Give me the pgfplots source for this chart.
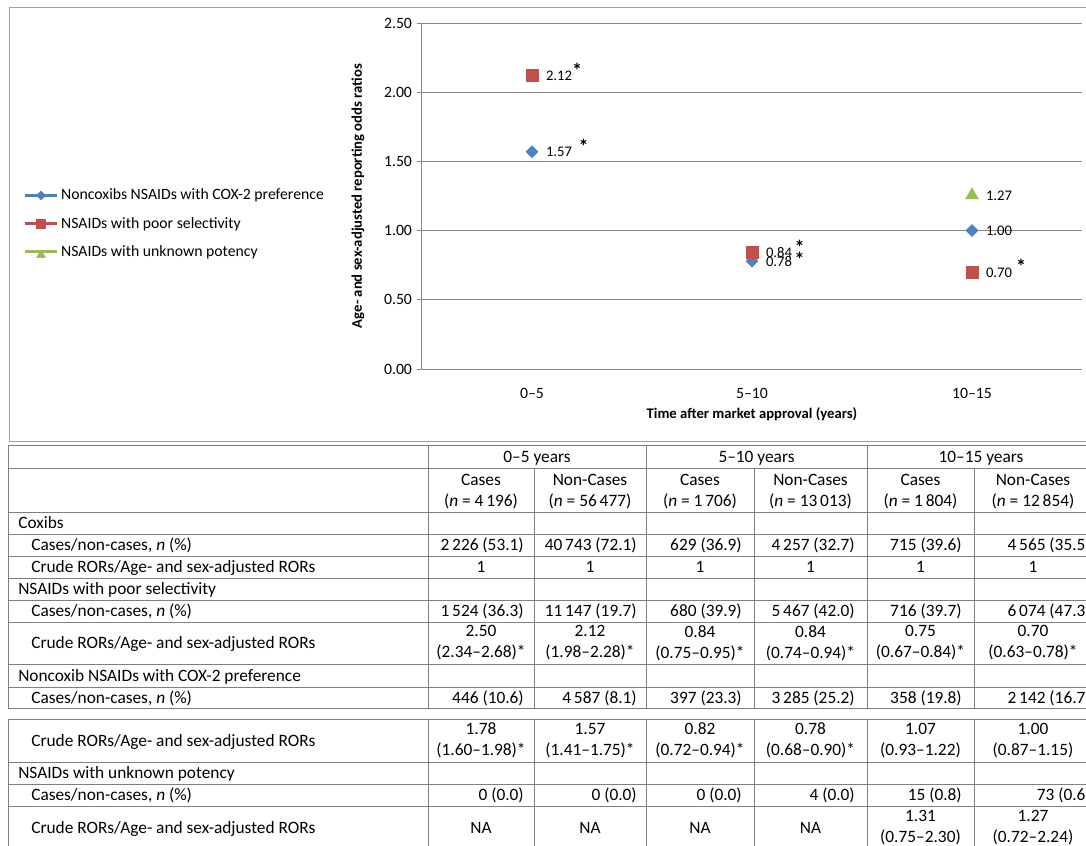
\documentclass[border=0pt]{standalone}
\usepackage{pgfplots}
\pgfplotsset{compat=1.18}
\usepackage{fontspec}
\setmainfont{Carlito}
\definecolor{cblue}{HTML}{4F81BD}
\definecolor{cred}{HTML}{C0504D}
\definecolor{cgreen}{HTML}{9BBB59}
\definecolor{gridc}{HTML}{868686}
\definecolor{framec}{HTML}{A0A0A0}
\definecolor{tline}{HTML}{7F7F7F}
\newcommand{\tf}{\fontsize{13}{15.75}\selectfont}
\newcommand{\cf}{\fontsize{11.8}{14}\selectfont}
\newcommand{\bst}{{\fontsize{15}{15}\selectfont\bfseries *}}
\newcommand{\st}{\raisebox{2.5pt}{\bst}}
% right aligned row (base y, six values)
\newcommand{\Rrow}[7]{%
  \node[anchor=base east] at (524,#1) {#2};
  \node[anchor=base east] at (637,#1) {#3};
  \node[anchor=base east] at (742,#1) {#4};
  \node[anchor=base east] at (855,#1) {#5};
  \node[anchor=base east] at (962,#1) {#6};
  \node[anchor=base east] at (1091,#1) {#7};}
% centred row (centre y, six values, may be two lines)
\newcommand{\Crow}[7]{%
  \node[align=center] at (481,#1) {#2};
  \node[align=center] at (590,#1) {#3};
  \node[align=center] at (700,#1) {#4};
  \node[align=center] at (810.5,#1) {#5};
  \node[align=center] at (920.5,#1) {#6};
  \node[align=center] at (1033,#1) {#7};}
\newcommand{\Brow}[7]{%
  \node[anchor=base] at (481,#1) {#2};
  \node[anchor=base] at (590,#1) {#3};
  \node[anchor=base] at (700,#1) {#4};
  \node[anchor=base] at (810.5,#1) {#5};
  \node[anchor=base] at (920.5,#1) {#6};
  \node[anchor=base] at (1033,#1) {#7};}
\begin{document}
\begin{tikzpicture}
\useasboundingbox (0pt,0pt) rectangle (814.5pt,-634.5pt);
\clip (0pt,0pt) rectangle (814.5pt,-634.5pt);
\fill[white] (0pt,0pt) rectangle (814.5pt,-634.5pt);
\begin{scope}[x=0.75pt,y=-0.75pt]
\draw[framec, line width=0.75pt] (9,7) rectangle (1120,441);
\end{scope}

\begin{axis}[
  at={(316.5pt,-276.75pt)}, anchor=south west,
  scale only axis, width=495pt, height=259.5pt,
  xmin=-0.5, xmax=2.5, ymin=0, ymax=2.5,
  xtick={0,1,2}, xticklabels={0–5,5–10,10–15},
  ytick={0,0.5,1,1.5,2,2.5},
  /pgf/number format/assume math mode=true,
  yticklabel style={/pgf/number format/.cd, fixed, fixed zerofill, precision=2},
  ticklabel style={font=\cf, text=black},
  xticklabel style={yshift=-7pt},
  axis x line*=bottom, axis y line*=left,
  axis line style={gridc, line width=0.75pt},
  ymajorgrids, grid style={gridc, line width=0.75pt},
  tick align=outside, major tick length=4pt,
  ytick style={gridc, line width=0.75pt},
  xtick style={draw=none},
  xlabel={Time after market approval (years)},
  ylabel={Age- and sex-adjusted reporting odds ratios},
  label style={font=\fontsize{11}{13}\selectfont\bfseries},
  xlabel style={at={(axis description cs:0.5,-0.13)}, anchor=center},
  ylabel style={at={(axis description cs:-0.097,0.5)}, anchor=center},
  legend style={at={(axis description cs:-0.604,0.42)}, anchor=west, draw=none, fill=none, font=\cf, row sep=7.5pt, inner sep=0pt, cells={anchor=west}},
  nodes near coords, point meta=explicit symbolic,
  nodes near coords style={anchor=base west, xshift=7pt, yshift=-3.8pt, font=\fontsize{11}{13}\selectfont, text=black},
  clip=false,
]
\addplot[only marks, mark=diamond*, mark size=4.5pt, color=cblue,
  mark options={xscale=1.33, fill=cblue, draw=cblue},
  legend image code/.code={\draw[cblue, line width=2.2pt] (0pt,0pt) -- (24pt,0pt);
    \draw[cblue, fill=cblue, mark=diamond*, mark size=3.3pt, mark options={xscale=1.33}] plot coordinates {(12pt,0pt)};}]
coordinates {(0,1.57) [1.57\hspace{5pt}\st] (1,0.78) [0.78\hspace{2pt}\bst] (2,1.00) [1.00]};
\addlegendentry{Noncoxibs NSAIDs with COX-2 preference}
\addplot[only marks, mark=square*, mark size=4.5pt, color=cred,
  mark options={fill=cred, draw=cred},
  legend image code/.code={\draw[cred, line width=2.2pt] (0pt,0pt) -- (24pt,0pt);
    \draw[cred, fill=cred, mark=square*, mark size=3.3pt] plot coordinates {(12pt,0pt)};}]
coordinates {(0,2.12) [2.12\st] (1,0.84) [0.84\hspace{2pt}\st] (2,0.70) [0.70\hspace{3pt}\st]};
\addlegendentry{NSAIDs with poor selectivity}
\addplot[only marks, mark=triangle*, mark size=5.5pt, color=cgreen,
  mark options={fill=cgreen, draw=cgreen, yshift=-1.5pt},
  legend image code/.code={\draw[cgreen, line width=2.2pt] (0pt,0pt) -- (24pt,0pt);
    \draw[cgreen, fill=cgreen, mark=triangle*, mark size=3.8pt] plot coordinates {(12pt,-0.8pt)};}]
coordinates {(2,1.27) [1.27]};
\addlegendentry{NSAIDs with unknown potency}
\end{axis}

\begin{scope}[x=0.75pt,y=-0.75pt, every node/.style={font=\tf, inner sep=0pt, text=black}]
\foreach \y in {445,468,512,534,556,578,600,622,664,687,708}
  \draw[tline, line width=0.75pt] (8,\y) -- (1120,\y);
\foreach \x in {8,428,646,867}
  \draw[tline, line width=0.75pt] (\x,445) -- (\x,708);
\foreach \x in {534,754,974}
  \draw[tline, line width=0.75pt] (\x,468) -- (\x,708);
\foreach \y in {719,762,784,806,850}
  \draw[tline, line width=0.75pt] (8,\y) -- (1120,\y);
\foreach \x in {8,428,534,646,754,867,974}
  \draw[tline, line width=0.75pt] (\x,719) -- (\x,850);
% header
\node[anchor=base] at (537,462) {0–5 years};
\node[anchor=base] at (756.5,462) {5–10 years};
\node[anchor=base] at (981,462) {10–15 years};
\Crow{492}{Cases\\(\textit{n} = 4\,196)}{Non-Cases\\(\textit{n} = 56\,477)}{Cases\\(\textit{n} = 1\,706)}{Non-Cases\\(\textit{n} = 13\,013)}{Cases\\(\textit{n} = 1\,804)}{Non-Cases\\(\textit{n} = 12\,854)}
% labels
\node[anchor=base west] at (18,528.5) {Coxibs};
\node[anchor=base west] at (31,550.5) {Cases/non-cases, \textit{n} (\%)};
\node[anchor=base west] at (31,572.5) {Crude RORs/Age- and sex-adjusted RORs};
\node[anchor=base west] at (18,594.5) {NSAIDs with poor selectivity};
\node[anchor=base west] at (31,616.5) {Cases/non-cases, \textit{n} (\%)};
\node[anchor=base west] at (31,648.5) {Crude RORs/Age- and sex-adjusted RORs};
\node[anchor=base west] at (18,681) {Noncoxib NSAIDs with COX-2 preference};
\node[anchor=base west] at (31,703) {Cases/non-cases, \textit{n} (\%)};
\node[anchor=base west] at (31,746) {Crude RORs/Age- and sex-adjusted RORs};
\node[anchor=base west] at (18,778.5) {NSAIDs with unknown potency};
\node[anchor=base west] at (31,800.5) {Cases/non-cases, \textit{n} (\%)};
\node[anchor=base west] at (31,833.5) {Crude RORs/Age- and sex-adjusted RORs};
% values
\Rrow{550.5}{2\,226 (53.1)}{40\,743 (72.1)}{629 (36.9)}{4\,257 (32.7)}{715 (39.6)}{4\,565 (35.5)}
\Brow{572.5}{1}{1}{1}{1}{1}{1}
\Rrow{616.5}{1\,524 (36.3)}{11\,147 (19.7)}{680 (39.9)}{5\,467 (42.0)}{716 (39.7)}{6\,074 (47.3)}
\Crow{643}{2.50\\(2.34–2.68)*}{2.12\\(1.98–2.28)*}{0.84\\(0.75–0.95)*}{0.84\\(0.74–0.94)*}{0.75\\(0.67–0.84)*}{0.70\\(0.63–0.78)*}
\Rrow{703}{446 (10.6)}{4\,587 (8.1)}{397 (23.3)}{3\,285 (25.2)}{358 (19.8)}{2\,142 (16.7)}
\Crow{740.5}{1.78\\(1.60–1.98)*}{1.57\\(1.41–1.75)*}{0.82\\(0.72–0.94)*}{0.78\\(0.68–0.90)*}{1.07\\(0.93–1.22)}{1.00\\(0.87–1.15)}
\Rrow{800.5}{0 (0.0)}{0 (0.0)}{0 (0.0)}{4 (0.0)}{15 (0.8)}{73 (0.6)}
\Brow{833.5}{NA}{NA}{NA}{NA}{}{}
\node[align=center] at (920.5,828) {1.31\\(0.75–2.30)};
\node[align=center] at (1033,828) {1.27\\(0.72–2.24)};
\end{scope}
\end{tikzpicture}
\end{document}
